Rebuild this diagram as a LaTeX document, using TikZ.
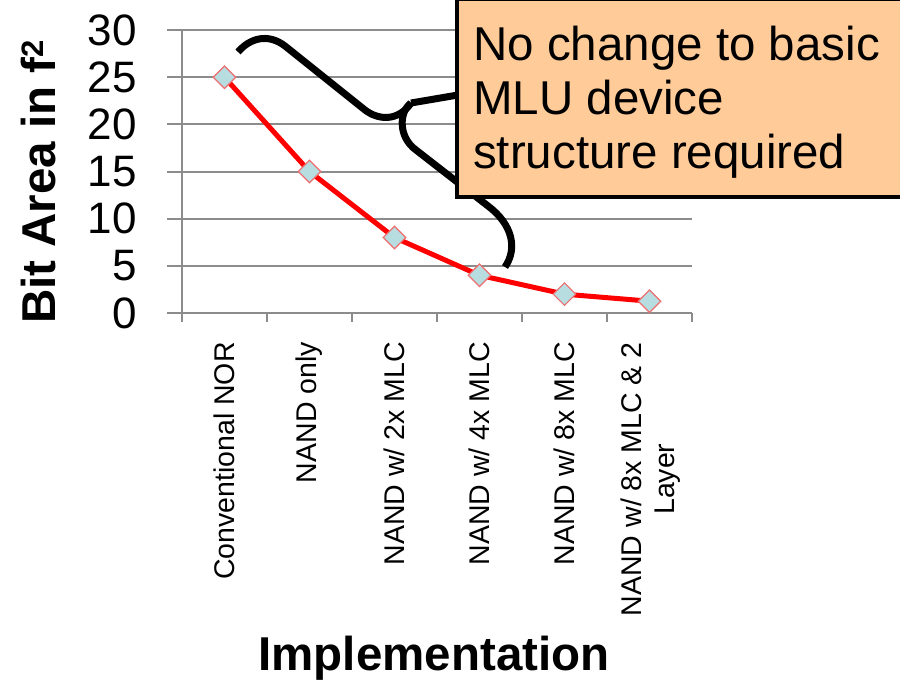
\documentclass[tikz,border=0pt]{standalone}
\usepackage{fontspec}
\setmainfont{Liberation Sans}
\usetikzlibrary{shapes.geometric}

\definecolor{gridgray}{HTML}{8C8C8C}
\definecolor{markfill}{HTML}{B7DDE0}
\definecolor{markedge}{HTML}{EE6F6F}
\definecolor{notefill}{HTML}{FFCC99}

\begin{document}
\begin{tikzpicture}[x=1pt,y=-1pt,
  grid/.style={draw=gridgray, line width=2pt},
  series/.style={draw=red, line width=5pt, line join=round},
  datamark/.style={diamond, aspect=1, fill=markfill, draw=markedge, line width=1.2pt,
    minimum width=23pt, minimum height=23pt, inner sep=0pt},
  ticklabel/.style={anchor=east, inner sep=0pt, font=\fontsize{44}{44}\selectfont},
  catlabel/.style={rotate=90, anchor=east, inner sep=0pt, align=center,
    font=\fontsize{28.5}{33}\selectfont},
  axistitle/.style={inner sep=0pt, font=\fontsize{47.5}{50}\selectfont\bfseries},
  bracepath/.style={draw=black, line width=7pt, line cap=butt, line join=round},
  notebox/.style={draw=black, line width=4pt, fill=notefill, inner sep=0pt,
    anchor=north west, minimum width=460pt, minimum height=198pt},
  notetext/.style={anchor=north west, inner sep=0pt, align=left,
    font=\fontsize{47.5}{54}\selectfont}]

\useasboundingbox (0,0) rectangle (900,682);
\fill[white] (0,0) rectangle (900,682);

% horizontal gridlines with ticks left of the value axis
\foreach \k in {1,...,6}
  \draw[grid] (167,{313-47.15*\k}) -- (692,{313-47.15*\k});
% axes
\draw[grid] (167,313) -- (692,313);
\draw[grid] (182,30.1) -- (182,322);
\foreach \i in {1,...,6}
  \draw[grid] ({182+85*\i},313) -- ({182+85*\i},322);

% value labels
\foreach \k/\v in {0/0,1/5,2/10,3/15,4/20,5/25,6/30}
  \node[ticklabel] (yl\k) at (137,{313-47.15*\k}) {\v};

% category labels
\node[catlabel] (c1) at (224.5,342) {Conventional NOR};
\node[catlabel] (c2) at (309.5,342) {NAND only};
\node[catlabel] (c3) at (394.5,342) {NAND w/ 2x MLC};
\node[catlabel] (c4) at (479.5,342) {NAND w/ 4x MLC};
\node[catlabel] (c5) at (564.5,342) {NAND w/ 8x MLC};
\node[catlabel] (c6) at (651,342) {NAND w/ 8x MLC \& 2\\Layer};

% axis titles
\node[axistitle, rotate=90] (ytitle) at (39,182)
  {Bit Area in f\raisebox{12pt}{\fontsize{31}{31}\selectfont 2}};
\node[axistitle, anchor=base] (xtitle) at (434,670) {Implementation};

% data series
\coordinate (d1) at (224.5,{313-9.43*25});
\coordinate (d2) at (309.5,{313-9.43*15});
\coordinate (d3) at (394.5,{313-9.43*8});
\coordinate (d4) at (479.5,{313-9.43*4});
\coordinate (d5) at (564.5,{313-9.43*2});
\coordinate (d6) at (649.5,{313-9.43*1.25});
\draw[series] (d1) -- (d2) -- (d3) -- (d4) -- (d5) -- (d6);
\foreach \p in {1,...,6}
  \node[datamark] (m\p) at (d\p) {};

% curly brace grouping the NAND steps
\coordinate (bt) at (238,52);
\coordinate (bc) at (411,103);
\coordinate (bb) at (505,267);
\draw[bracepath] (bt) .. controls (250,38) and (268,33) .. (285,46)
  -- (365,110) .. controls (378,120) and (398,122) .. (bc);
\draw[bracepath] (bc) .. controls (399,112) and (398,137) .. (416,150)
  -- (488,206) .. controls (512,224) and (518,248) .. (bb);

% callout box and its pointer
\coordinate (pt) at (458,95);
\draw[bracepath] (bc) -- (pt);
\node[notebox] (note) at (454.5,-3) {};
\node[notetext] (notetxt) at (473,26) {No change to basic\\MLU device\\structure required};
\end{tikzpicture}
\end{document}
